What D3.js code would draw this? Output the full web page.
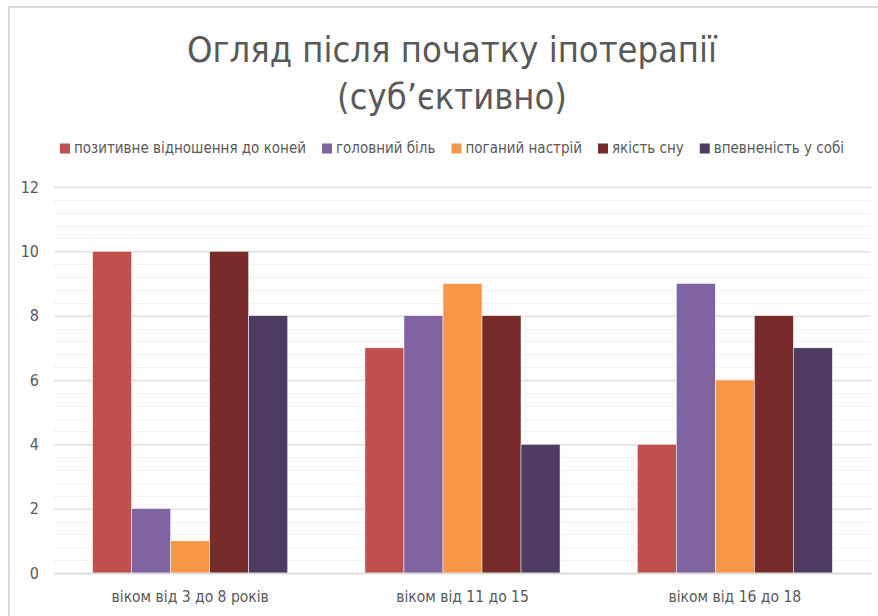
<!DOCTYPE html>
<html>
<head>
<meta charset="utf-8">
<script src="https://cdn.jsdelivr.net/npm/d3@7"></script>
<style>
  body { margin: 0; background: #fff; }
  text { font-family: "DejaVu Sans Condensed", "Roboto", sans-serif; fill: #595959; }
</style>
</head>
<body>
<svg id="chart" width="878" height="616"></svg>
<script>
// categories on the x axis
const categories = ["віком від 3 до 8 років", "віком від 11 до 15", "віком від 16 до 18"];
// series names (legend)
const seriesNames = ["позитивне відношення до коней", "головний біль", "поганий настрій", "якість сну", "впевненість у собі"];
const seriesColors = ["#C0504D", "#8064A2", "#F79646", "#772C2A", "#4D3B62"];
// values per series, one per category
const positiveValues = [10, 7, 4];
const headacheValues = [2, 8, 9];
const moodValues = [1, 9, 6];
const sleepValues = [10, 8, 8];
const confidenceValues = [8, 4, 7];
const yTicks = [0, 2, 4, 6, 8, 10, 12];
const titleLines = ["Огляд після початку іпотерапії", "(суб’єктивно)"];

const allValues = [positiveValues, headacheValues, moodValues, sleepValues, confidenceValues];

const svg = d3.select("#chart");
const centerX = 452;
const axisFont = "DejaVu Sans Condensed, Roboto, sans-serif";

//chart border (cropped on the right/bottom like the screenshot)
svg.append("rect")
  .attr("x", 9).attr("y", 7)
  .attr("width", 900).attr("height", 700)
  .style("fill", "none")
  .style("stroke", "#d9d9d9")
  .style("stroke-width", 2);

//title
svg.selectAll(".title")
  .data(titleLines)
  .enter()
  .append("text")
  .attr("class", "title")
  .attr("x", centerX)
  .attr("y", (d, i) => 62 + i * 47)
  .attr("text-anchor", "middle")
  .style("font-size", "36px")
  .text(d => d);

//scales
const x0 = d3.scaleBand().domain(categories).range([54, 871]);
const x1 = d3.scaleBand().domain(seriesNames).range([0, x0.bandwidth()]).paddingOuter(0.99);
const y = d3.scaleLinear().domain([0, 12]).range([573, 187]);

//minor gridlines
const minor = d3.range(0, 12.01, 0.4).filter(v => Math.abs(v / 2 - Math.round(v / 2)) > 0.01);
svg.append("g").selectAll("line")
  .data(minor)
  .enter()
  .append("line")
  .attr("x1", 54).attr("x2", 871)
  .attr("y1", d => Math.round(y(d)) + 0.5)
  .attr("y2", d => Math.round(y(d)) + 0.5)
  .style("stroke", "#f2f2f2");

//major gridlines + y labels
const yAxis = svg.append("g")
  .attr("transform", "translate(54,0)")
  .call(d3.axisLeft(y).tickValues(yTicks).tickSize(-817).tickPadding(15).tickFormat(d3.format("d")));
yAxis.select(".domain").remove();
yAxis.selectAll(".tick line").style("stroke", "#e0e0e0").style("stroke-width", 1.5);
yAxis.selectAll(".tick text").style("font-size", "16px").style("fill", "#595959")
  .style("font-family", axisFont);

//bars
const groups = svg.append("g").selectAll("g")
  .data(categories)
  .enter()
  .append("g")
  .attr("transform", d => "translate(" + x0(d) + ",0)");

groups.selectAll("rect")
  .data((c, ci) => seriesNames.map((s, si) => ({ name: s, value: allValues[si][ci], color: seriesColors[si] })))
  .enter()
  .append("rect")
  .attr("x", d => x1(d.name))
  .attr("width", x1.bandwidth())
  .attr("y", d => y(d.value))
  .attr("height", d => y(0) - y(d.value))
  .style("fill", d => d.color)
  .style("stroke", "#ffffff")
  .style("stroke-width", 0.5);

//x axis
const xAxis = svg.append("g")
  .attr("transform", "translate(0,573)")
  .call(d3.axisBottom(x0).tickSize(0).tickPadding(18));
xAxis.select(".domain").style("stroke", "#d9d9d9").style("stroke-width", 1.5);
xAxis.selectAll(".tick text").style("font-size", "15.5px").style("fill", "#595959")
  .style("font-family", axisFont);

//legend, measured and centered
const legend = svg.append("g");
let lx = 0;
seriesNames.forEach((name, i) => {
  const item = legend.append("g").attr("transform", "translate(" + lx + ",0)");
  item.append("rect")
    .attr("x", 0).attr("y", -9.5)
    .attr("width", 10).attr("height", 10)
    .style("fill", seriesColors[i]);
  const t = item.append("text")
    .attr("x", 14).attr("y", 0)
    .style("font-size", "15px")
    .text(name);
  lx += 14 + t.node().getComputedTextLength() + 16;
});
const legendWidth = lx - 16;
legend.attr("transform", "translate(" + (centerX - legendWidth / 2) + ",153)");
</script>
</body>
</html>
